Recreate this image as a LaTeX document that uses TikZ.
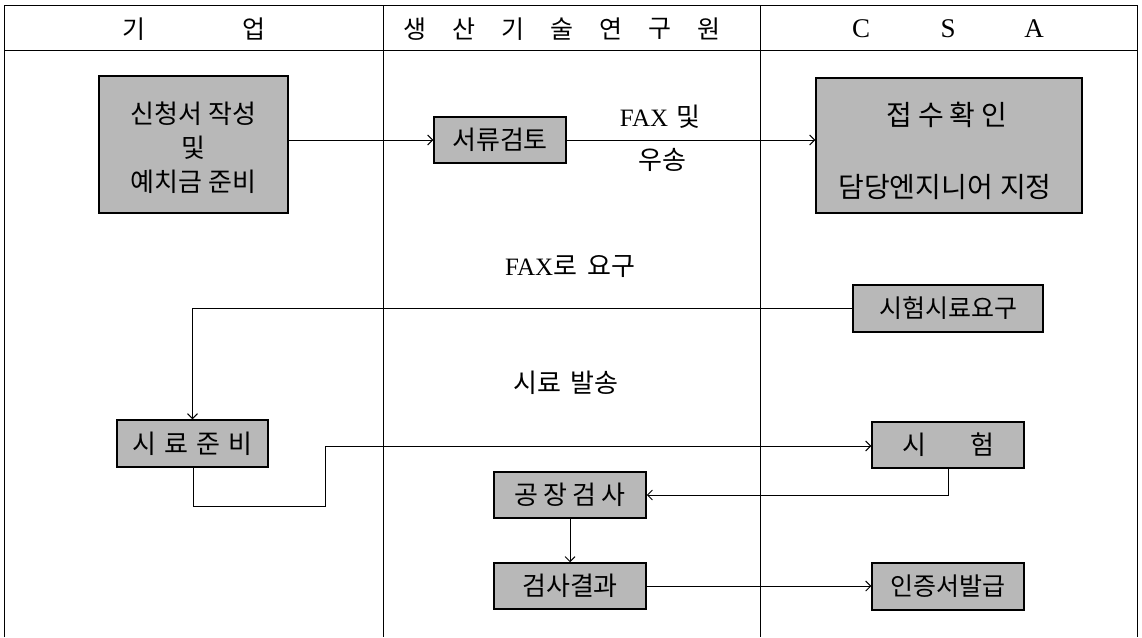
\documentclass[tikz,border=0pt]{standalone}
\usepackage{fontspec}
\setmainfont{Liberation Serif}
\newfontfamily\kr{Noto Sans CJK KR}
\usetikzlibrary{arrows.meta}
\begin{document}
\begin{tikzpicture}[x=1pt,y=-1pt,
  frame/.style={line width=1pt},
  box/.style={draw, line width=1.5pt, fill=black!28, inner sep=0pt, align=center,
    font=\kr\fontsize{26}{34}\selectfont},
  conn/.style={line width=0.9pt},
  arr/.style={conn, -{Straight Barb[length=5pt,width=10pt]}},
  hdr/.style={font=\kr\fontsize{25}{28}\selectfont, inner sep=0pt},
  hdrl/.style={font=\fontsize{27}{30}\selectfont, inner sep=0pt},
  lbl/.style={font=\kr\fontsize{26}{30}\selectfont, inner sep=0pt},
  txt/.style={font=\kr\fontsize{28}{32}\selectfont, inner sep=0pt}]
\useasboundingbox (0,0) rectangle (1142,637);
% frame
\coordinate (tl) at (4,5);
\coordinate (tr) at (1137,5);
\coordinate (bl) at (4,637);
\coordinate (br) at (1137,637);
\draw[frame] (bl) -- (tl) -- (tr) -- (br);
\draw[frame] (4,50) -- (1137,50);
\draw[frame] (383,5) -- (383,637);
\draw[frame] (760,5) -- (760,637);
% headers
\node[hdr] (h1) at (134,29) {기};
\node[hdr] (h2) at (254,29) {업};
\foreach \c [count=\i] in {생,산,기,술,연,구,원}
  \node[hdr] (m\i) at ({415+49*(\i-1)},29) {\c};
\node[hdrl] (c1) at (861,29) {C};
\node[hdrl] (c2) at (948,29) {S};
\node[hdrl] (c3) at (1034,29) {A};
% boxes
\node[box, minimum width=189pt, minimum height=137pt] (app) at (193.5,144.5) {};
\node[txt, font=\kr\fontsize{26}{34}\selectfont, align=center] (appt) at (193.5,147.5)
  {신청서\hspace{7pt}작성\\및\\예치금\hspace{7pt}준비};
\node[box, minimum width=132pt, minimum height=46pt] (doc) at (500,140) {서류검토};
\node[box, minimum width=266pt, minimum height=135pt] (rcv) at (949,145.5) {};
\node[txt] (rcv1) at (947,115) {접\hspace{6pt}수\hspace{6pt}확\hspace{6pt}인};
\node[txt] (rcv2) at (945,187) {담당엔지니어\hspace{7pt}지정};
\node[box, minimum width=190pt, minimum height=47pt,
  font=\kr\fontsize{25}{28}\selectfont] (req) at (948,308.5) {시험시료요구};
\node[box, minimum width=151pt, minimum height=47pt] (prep) at (192.5,443.5)
  {시\hspace{8pt}료\hspace{8pt}준\hspace{8pt}비};
\node[box, minimum width=152pt, minimum height=46pt] (test) at (948,445)
  {시\hspace{44pt}험};
\node[box, minimum width=152pt, minimum height=46pt] (fac) at (570,495)
  {공\hspace{5pt}장\hspace{5pt}검\hspace{5pt}사};
\node[box, minimum width=152pt, minimum height=46pt] (res) at (570,586) {검사결과};
\node[box, minimum width=152pt, minimum height=47pt,
  font=\kr\fontsize{25}{28}\selectfont] (cert) at (948,586.5) {인증서발급};
% labels
\node[lbl] (l1) at (660,117) {{\rmfamily\fontsize{25}{28}\selectfont FAX}\hspace{8pt}및};
\node[lbl] (l2) at (662,160) {우송};
\node[lbl] (l3) at (570,267) {{\rmfamily\fontsize{25}{28}\selectfont FAX}로\hspace{10pt}요구};
\node[lbl] (l4) at (566,383) {시료\hspace{10pt}발송};
% connectors
\draw[arr] (app.east |- doc.west) -- (doc.west);
\draw[arr] (doc.east) -- (rcv.west |- doc.east);
\draw[arr] (req.west) -- (prep.north |- req.west) -- (prep.north);
\coordinate (p1) at (193,506);
\coordinate (p2) at (325,506);
\coordinate (p3) at (325,446);
\draw[arr] (prep.south -| p1) -- (p1) -- (p2) -- (p3) -- (test.west |- p3);
\coordinate (q1) at (948,495);
\draw[arr] (test.south -| q1) -- (q1) -- (fac.east |- q1);
\draw[arr] (fac.south) -- (res.north);
\draw[arr] (res.east) -- (cert.west |- res.east);
\end{tikzpicture}
\end{document}
